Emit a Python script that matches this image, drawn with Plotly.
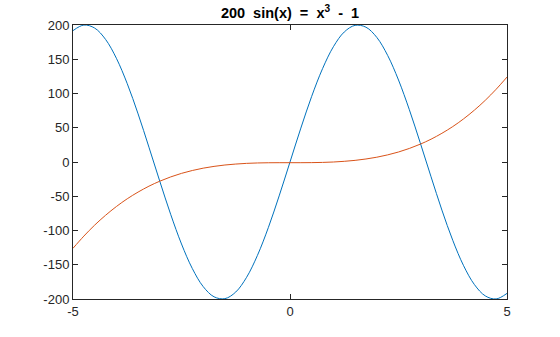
import plotly.graph_objects as go

x_vals = [-5.0, -4.75, -4.5, -4.25, -4.0, -3.75, -3.5, -3.25, -3.0, -2.75, -2.5, -2.25, -2.0,
          -1.75, -1.5, -1.25, -1.0, -0.75, -0.5, -0.25, 0.0, 0.25, 0.5, 0.75, 1.0, 1.25, 1.5,
          1.75, 2.0, 2.25, 2.5, 2.75, 3.0, 3.25, 3.5, 3.75, 4.0, 4.25, 4.5, 4.75, 5.0]

sine_series = [191.8, 199.9, 195.5, 179.0, 151.4, 114.3, 70.2, 21.6, -28.2, -76.3, -119.7,
               -155.6, -181.9, -196.8, -199.5, -189.8, -168.3, -136.3, -95.9, -49.5, 0.0,
               49.5, 95.9, 136.3, 168.3, 189.8, 199.5, 196.8, 181.9, 155.6, 119.7, 76.3, 28.2,
               -21.6, -70.2, -114.3, -151.4, -179.0, -195.5, -199.9, -191.8]

cubic_series = [-126.0, -108.2, -92.1, -77.8, -65.0, -53.7, -43.9, -35.3, -28.0, -21.8, -16.6,
                -12.4, -9.0, -6.4, -4.4, -3.0, -2.0, -1.4, -1.1, -1.0, -1.0, -1.0, -0.9, -0.6,
                0.0, 1.0, 2.4, 4.4, 7.0, 10.4, 14.6, 19.8, 26.0, 33.3, 41.9, 51.7, 63.0, 75.8,
                90.1, 106.2, 124.0]

x_ticks = [-5, 0, 5]
x_tick_labels = ["-5", "0", "5"]
y_ticks = [-200, -150, -100, -50, 0, 50, 100, 150, 200]
y_tick_labels = ["-200", "-150", "-100", "-50", "0", "50", "100", "150", "200"]

font_family = "Liberation Sans, Arial, Helvetica, sans-serif"

fig = go.Figure()
fig.add_trace(go.Scatter(x=x_vals, y=sine_series, mode="lines",
                         line=dict(color="#0072BD", width=1, shape="spline", smoothing=1.0)))
fig.add_trace(go.Scatter(x=x_vals, y=cubic_series, mode="lines",
                         line=dict(color="#D95319", width=1, shape="spline", smoothing=1.0)))

axis_common = dict(showline=True, linecolor="#262626", linewidth=1, mirror="ticks",
                   ticks="inside", ticklen=5, tickwidth=1, tickcolor="#262626",
                   showgrid=False, zeroline=False,
                   tickfont=dict(family=font_family, size=13, color="#262626"))

fig.update_layout(
    width=560, height=337,
    margin=dict(l=73, r=53, t=25, b=38),
    paper_bgcolor="white", plot_bgcolor="white",
    showlegend=False,
    title=dict(text="<b>200&nbsp;&nbsp;sin(x)&nbsp;&nbsp;=&nbsp;&nbsp;x<sup>3</sup>&nbsp;&nbsp;-&nbsp;&nbsp;1</b>",
               x=290 / 560, xanchor="center", y=1 - 13 / 337, yanchor="middle",
               font=dict(family=font_family, size=14.5, color="black")),
    xaxis=dict(range=[-5, 5], tickvals=x_ticks, ticktext=x_tick_labels, **axis_common),
    yaxis=dict(range=[-200, 200], tickvals=y_ticks, ticktext=y_tick_labels, **axis_common),
)

fig.write_html("out.html")
